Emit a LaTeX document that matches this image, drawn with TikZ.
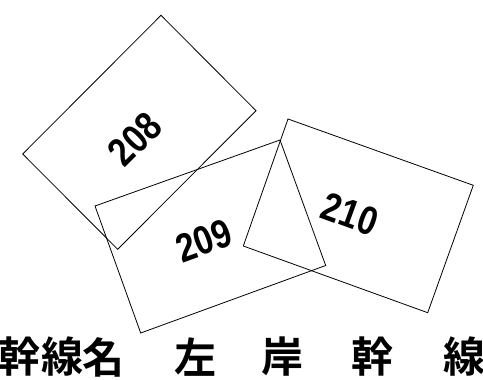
\documentclass[tikz,border=0pt]{standalone}
\usepackage{fontspec}
\setmainfont{Liberation Sans}
\newfontfamily\cjkfont{Noto Sans CJK JP}[BoldFont={* Bold}]
\newcommand{\lotno}[1]{\scalebox{0.84}[1]{#1}}
\tikzset{
  lot/.style={draw=black, line width=0.8pt, line join=miter},
  lotnum/.style={font=\bfseries\fontsize{40}{40}\selectfont, inner sep=0pt},
  title/.style={font=\cjkfont\bfseries\fontsize{42}{42}\selectfont, inner sep=0pt}
}
\begin{document}
\begin{tikzpicture}[x=1pt,y=-1pt]
\useasboundingbox (0,0) rectangle (483,380);
% rectangle 208
\coordinate (a1) at (161,15.3);
\coordinate (a2) at (256,110.7);
\coordinate (a3) at (117.7,249.3);
\coordinate (a4) at (22.7,154);
\draw[lot] (a1) -- (a2) -- (a3) -- (a4) -- cycle;
% rectangle 209
\coordinate (b1) at (280,140);
\coordinate (b2) at (325.7,265.5);
\coordinate (b3) at (140.7,333);
\coordinate (b4) at (95,206);
\draw[lot] (b1) -- (b2) -- (b3) -- (b4) -- cycle;
% rectangle 210
\coordinate (c1) at (288,119);
\coordinate (c2) at (473.3,185.3);
\coordinate (c3) at (427.7,312.7);
\coordinate (c4) at (243.3,246);
\draw[lot] (c1) -- (c2) -- (c3) -- (c4) -- cycle;
% labels
\node[lotnum, rotate=45] (n208) at (135,139) {\lotno{208}};
\node[lotnum, rotate=20] (n209) at (204,240.5) {\lotno{209}};
\node[lotnum, rotate=-20] (n210) at (350,214) {\lotno{210}};
% title
\node[title] (t1) at (19.5,357) {幹};
\node[title] (t2) at (62.5,357) {線};
\node[title] (t3) at (103.5,357) {名};
\node[title] (t4) at (195,357) {左};
\node[title] (t5) at (282,357) {岸};
\node[title] (t6) at (372,357) {幹};
\node[title] (t7) at (464,357) {線};
\end{tikzpicture}
\end{document}
